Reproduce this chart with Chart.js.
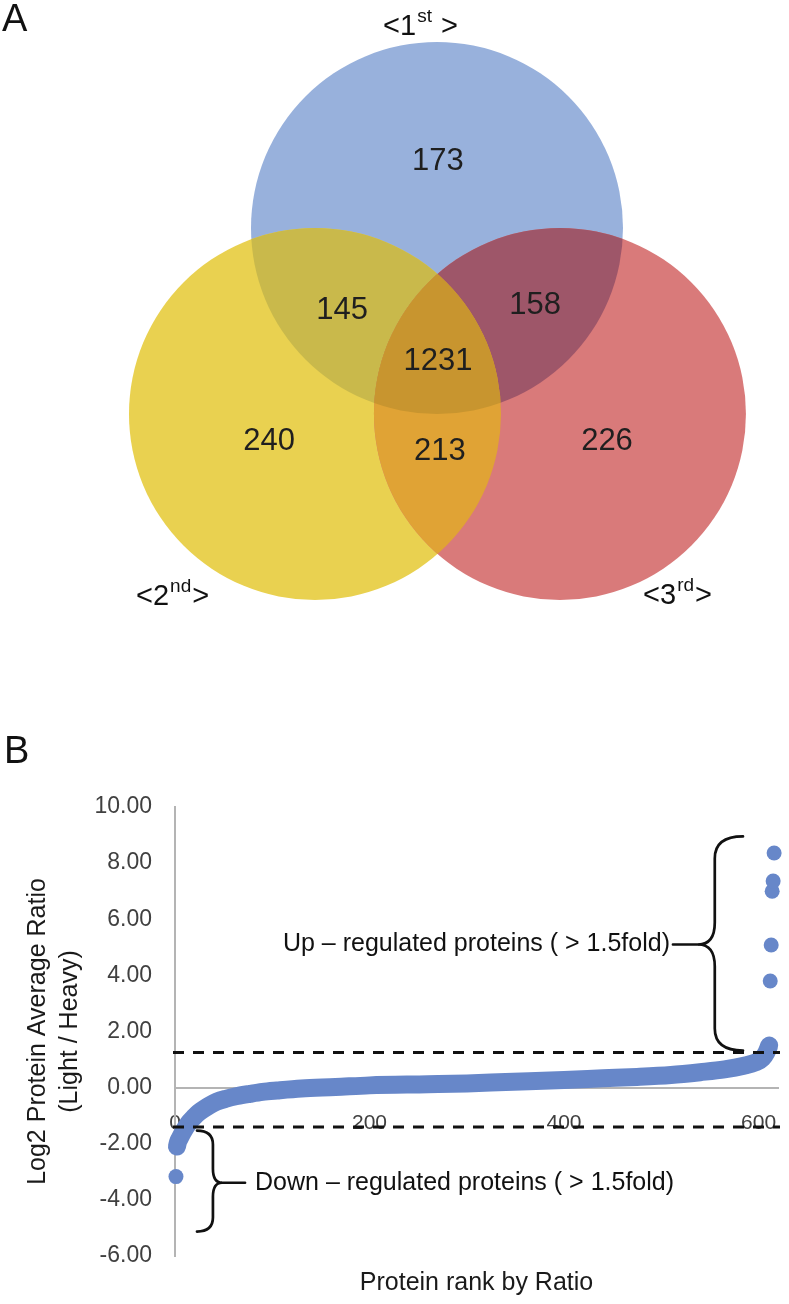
<!DOCTYPE html>
<html>
<head>
<meta charset="utf-8">
<script src="https://cdn.jsdelivr.net/npm/chart.js"></script>
<style>
  html, body { margin: 0; padding: 0; background: #fff; }
  #page { position: relative; width: 789px; height: 1304px; overflow: hidden; font-family: "Liberation Sans", Arial, sans-serif; }
  #vennCanvas { position: absolute; left: 0; top: 0; }
  #rankCanvas { position: absolute; left: 0; top: 640px; }
  .panel-label { position: absolute; font-size: 38px; line-height: 1; color: #111; }
</style>
</head>
<body>
<div id="page">
  <canvas id="vennCanvas" width="789" height="640"></canvas>
  <canvas id="rankCanvas" width="789" height="664"></canvas>
  <div class="panel-label" style="left:2px; top:-1px;">A</div>
  <div class="panel-label" style="left:4px; top:731px;">B</div>
</div>
<script>
// ---- Panel A: Venn data ----
const SET_NUMBERS = ['1', '2', '3'];
const SET_SUFFIXES = ['st', 'nd', 'rd'];
const REGION_KEYS = ['1', '2', '3', '12', '13', '23', '123'];
const REGION_COUNTS = [173, 240, 226, 145, 158, 213, 1231];

// ---- Panel B: ranked ratio data ----
const X_TICKS = [0, 200, 400, 600];
const Y_TICKS = [-6, -4, -2, 0, 2, 4, 6, 8, 10];
const CURVE_RANK = [2, 3, 5, 8, 11, 15, 19, 24, 30, 36, 43, 52, 64, 77, 90, 105, 130, 165, 200, 260, 300, 340, 400, 440, 475, 510, 540, 565, 585, 597, 604, 608, 611];
const CURVE_RATIO = [-2.1, -1.95, -1.8, -1.6, -1.42, -1.22, -1.07, -0.9, -0.75, -0.62, -0.5, -0.4, -0.3, -0.22, -0.15, -0.1, -0.03, 0.02, 0.08, 0.12, 0.15, 0.2, 0.27, 0.33, 0.38, 0.45, 0.55, 0.65, 0.78, 0.9, 1.05, 1.25, 1.5];
const OUTLIER_RANK = [1, 612, 613, 614, 615, 616];
const OUTLIER_RATIO = [-3.17, 3.8, 5.08, 7.0, 7.36, 8.36];
const UP_CUTOFF = 1.25;
const DOWN_CUTOFF = -1.4;

// Layout of the Venn in circle-radius units (not data)
const CIRCLE_CENTERS = { '1': [0, 1], '2': [-0.656, 0], '3': [0.661, 0] };
const REGION_ANCHORS = [[0.005, 1.36], [-0.903, -0.145], [0.914, -0.145], [-0.51, 0.554], [0.527, 0.586], [0.016, -0.204], [0.005, 0.28]];
const SET_LABEL_ANCHORS = [[-0.29, 2.038], [-1.618, -1.027], [1.108, -1.022]];
const SET_LABEL_TAILS = [' >', '>', '>'];

const FONT = '"Liberation Sans", Arial, sans-serif';
const REGION_FILL = {
  '1': '#98b1dc', '2': '#e9d150', '3': '#d97a7a',
  '12': '#c9b94b', '13': '#9e5669', '23': '#e0a335', '123': '#c8952f'
};
const DOT_BLUE = '#6787c9';

Chart.defaults.font.family = FONT;

const vennPlugin = {
  id: 'venn',
  afterDatasetsDraw(chart) {
    const { ctx, scales: { x, y } } = chart;
    const rx = x.getPixelForValue(1) - x.getPixelForValue(0);
    const ry = y.getPixelForValue(0) - y.getPixelForValue(1);

    function ellipse(key) {
      const [cx, cy] = CIRCLE_CENTERS[key];
      ctx.beginPath();
      ctx.ellipse(x.getPixelForValue(cx), y.getPixelForValue(cy), rx, ry, 0, 0, Math.PI * 2);
    }
    function fillWithin(clipKeys, key, color) {
      ctx.save();
      clipKeys.forEach((k) => { ellipse(k); ctx.clip(); });
      ellipse(key);
      ctx.fillStyle = color;
      ctx.fill();
      ctx.restore();
    }

    fillWithin([], '1', REGION_FILL['1']);
    fillWithin([], '2', REGION_FILL['2']);
    fillWithin([], '3', REGION_FILL['3']);
    fillWithin(['1'], '2', REGION_FILL['12']);
    fillWithin(['1'], '3', REGION_FILL['13']);
    fillWithin(['2'], '3', REGION_FILL['23']);
    fillWithin(['1', '2'], '3', REGION_FILL['123']);

    // region counts
    ctx.save();
    ctx.fillStyle = '#1f1f1f';
    ctx.font = `31px ${FONT}`;
    ctx.textAlign = 'center';
    ctx.textBaseline = 'middle';
    chart.getDatasetMeta(0).data.forEach((pt, i) => {
      ctx.fillText(String(REGION_COUNTS[i]), pt.x, pt.y);
    });

    // set labels with superscript ordinals
    ctx.textAlign = 'left';
    ctx.textBaseline = 'alphabetic';
    ctx.fillStyle = '#111';
    chart.getDatasetMeta(1).data.forEach((pt, i) => {
      let px = pt.x;
      const head = '<' + SET_NUMBERS[i];
      ctx.font = `29px ${FONT}`;
      ctx.fillText(head, px, pt.y);
      px += ctx.measureText(head).width + 1;
      ctx.font = `19px ${FONT}`;
      ctx.fillText(SET_SUFFIXES[i], px, pt.y - 13);
      px += ctx.measureText(SET_SUFFIXES[i]).width + 1;
      ctx.font = `29px ${FONT}`;
      ctx.fillText(SET_LABEL_TAILS[i], px, pt.y);
    });
    ctx.restore();
  }
};

new Chart(document.getElementById('vennCanvas'), {
  type: 'scatter',
  data: {
    datasets: [
      {
        label: 'regions',
        data: REGION_KEYS.map((key, i) => ({ x: REGION_ANCHORS[i][0], y: REGION_ANCHORS[i][1], key })),
        pointRadius: 0
      },
      {
        label: 'sets',
        data: SET_NUMBERS.map((n, i) => ({ x: SET_LABEL_ANCHORS[i][0], y: SET_LABEL_ANCHORS[i][1] })),
        pointRadius: 0
      }
    ]
  },
  options: {
    responsive: false,
    animation: false,
    events: [],
    layout: { padding: 0 },
    plugins: { legend: { display: false }, tooltip: { enabled: false } },
    scales: {
      x: { type: 'linear', display: false, min: -2.3495, max: 1.8925 },
      y: { type: 'linear', display: false, min: -1.2151, max: 2.2258 }
    }
  },
  plugins: [vennPlugin]
});

// ---- Panel B ----
function drawBrace(ctx, tipX, spineX, noseX, topY, noseY, bottomY, curl) {
  ctx.beginPath();
  ctx.moveTo(tipX, topY);
  ctx.quadraticCurveTo(spineX, topY, spineX, topY + curl);
  ctx.lineTo(spineX, noseY - curl);
  ctx.quadraticCurveTo(spineX, noseY, noseX, noseY);
  ctx.quadraticCurveTo(spineX, noseY, spineX, noseY + curl);
  ctx.lineTo(spineX, bottomY - curl);
  ctx.quadraticCurveTo(spineX, bottomY, tipX, bottomY);
  ctx.stroke();
}

const annotationPlugin = {
  id: 'cutoffs',
  afterDatasetsDraw(chart) {
    const { ctx, chartArea, scales: { x, y } } = chart;
    ctx.save();

    // cutoff lines
    ctx.strokeStyle = '#111';
    ctx.lineWidth = 3;
    ctx.setLineDash([11, 9]);
    [UP_CUTOFF, DOWN_CUTOFF].forEach((v) => {
      const py = y.getPixelForValue(v);
      ctx.beginPath();
      ctx.moveTo(chartArea.left - 2, py);
      ctx.lineTo(chartArea.right + 2, py);
      ctx.stroke();
    });
    ctx.setLineDash([]);

    // braces
    ctx.lineWidth = 2.7;
    ctx.lineCap = 'round';
    const up = { tip: 584, spine: 555, nose: 538, lead: 512, top: 8.95, mid: 5.1, bottom: 1.32 };
    const down = { tip: 22.6, spine: 39, nose: 48.3, lead: 72, top: -1.53, mid: -3.39, bottom: -5.13 };
    drawBrace(ctx, x.getPixelForValue(up.tip), x.getPixelForValue(up.spine), x.getPixelForValue(up.nose),
      y.getPixelForValue(up.top), y.getPixelForValue(up.mid), y.getPixelForValue(up.bottom), 22);
    drawBrace(ctx, x.getPixelForValue(down.tip), x.getPixelForValue(down.spine), x.getPixelForValue(down.nose),
      y.getPixelForValue(down.top), y.getPixelForValue(down.mid), y.getPixelForValue(down.bottom), 14);

    ctx.beginPath();
    ctx.moveTo(x.getPixelForValue(up.lead), y.getPixelForValue(up.mid));
    ctx.lineTo(x.getPixelForValue(up.nose), y.getPixelForValue(up.mid));
    ctx.moveTo(x.getPixelForValue(down.nose), y.getPixelForValue(down.mid));
    ctx.lineTo(x.getPixelForValue(down.lead), y.getPixelForValue(down.mid));
    ctx.stroke();

    // labels
    ctx.fillStyle = '#111';
    ctx.font = `25px ${FONT}`;
    ctx.textBaseline = 'middle';
    ctx.textAlign = 'right';
    ctx.fillText('Up \u2013 regulated proteins ( > 1.5fold)', x.getPixelForValue(up.lead) - 3, y.getPixelForValue(up.mid));
    ctx.textAlign = 'left';
    ctx.fillText('Down \u2013 regulated proteins ( > 1.5fold)', x.getPixelForValue(down.lead) + 10, y.getPixelForValue(down.mid));
    ctx.restore();
  }
};

new Chart(document.getElementById('rankCanvas'), {
  type: 'scatter',
  data: {
    datasets: [
      {
        label: 'Ranked proteins',
        data: CURVE_RANK.map((r, i) => ({ x: r, y: CURVE_RATIO[i] })),
        showLine: true,
        borderColor: DOT_BLUE,
        borderWidth: 18,
        borderCapStyle: 'round',
        borderJoinStyle: 'round',
        cubicInterpolationMode: 'monotone',
        pointRadius: 0,
        clip: false
      },
      {
        label: 'Outliers',
        data: OUTLIER_RANK.map((r, i) => ({ x: r, y: OUTLIER_RATIO[i] })),
        backgroundColor: DOT_BLUE,
        borderWidth: 0,
        pointRadius: 7.5,
        clip: false
      }
    ]
  },
  options: {
    responsive: false,
    animation: false,
    events: [],
    layout: { padding: { left: 0, right: 11, top: 167, bottom: 0 } },
    plugins: { legend: { display: false }, tooltip: { enabled: false } },
    scales: {
      x: {
        type: 'linear',
        position: { y: 0 },
        min: 0,
        max: 620,
        afterBuildTicks: (scale) => { scale.ticks = X_TICKS.map((v) => ({ value: v })); },
        afterFit: (scale) => { scale.paddingLeft = 0; scale.paddingRight = 0; },
        grid: { display: false, drawTicks: false },
        border: { display: true, color: '#b4b4b4', width: 2 },
        ticks: { padding: 23, color: '#404040', font: { size: 21 }, maxRotation: 0, autoSkip: false }
      },
      xTitle: {
        type: 'linear',
        position: 'bottom',
        min: 0,
        max: 620,
        grid: { display: false, drawTicks: false },
        border: { display: false },
        ticks: { display: false },
        title: {
          display: true,
          text: 'Protein rank by Ratio',
          color: '#1a1a1a',
          font: { size: 25 },
          padding: { top: 0, bottom: 6 }
        },
        afterFit: (scale) => { scale.height = 48; scale.paddingLeft = 0; scale.paddingRight = 0; }
      },
      y: {
        type: 'linear',
        min: -6,
        max: 10,
        afterBuildTicks: (scale) => { scale.ticks = Y_TICKS.map((v) => ({ value: v })); },
        grid: { display: false, drawTicks: false },
        border: { display: true, color: '#b4b4b4', width: 2 },
        ticks: {
          padding: 23,
          color: '#404040',
          font: { size: 23 },
          callback: (value) => Number(value).toFixed(2)
        },
        title: {
          display: true,
          text: ['Log2 Protein Average Ratio', '(Light / Heavy)'],
          color: '#1a1a1a',
          font: { size: 25, lineHeight: 1.28 },
          padding: { top: 22, bottom: 0 }
        },
        afterFit: (scale) => { scale.width = 175; }
      }
    }
  },
  plugins: [annotationPlugin]
});
</script>
</body>
</html>
